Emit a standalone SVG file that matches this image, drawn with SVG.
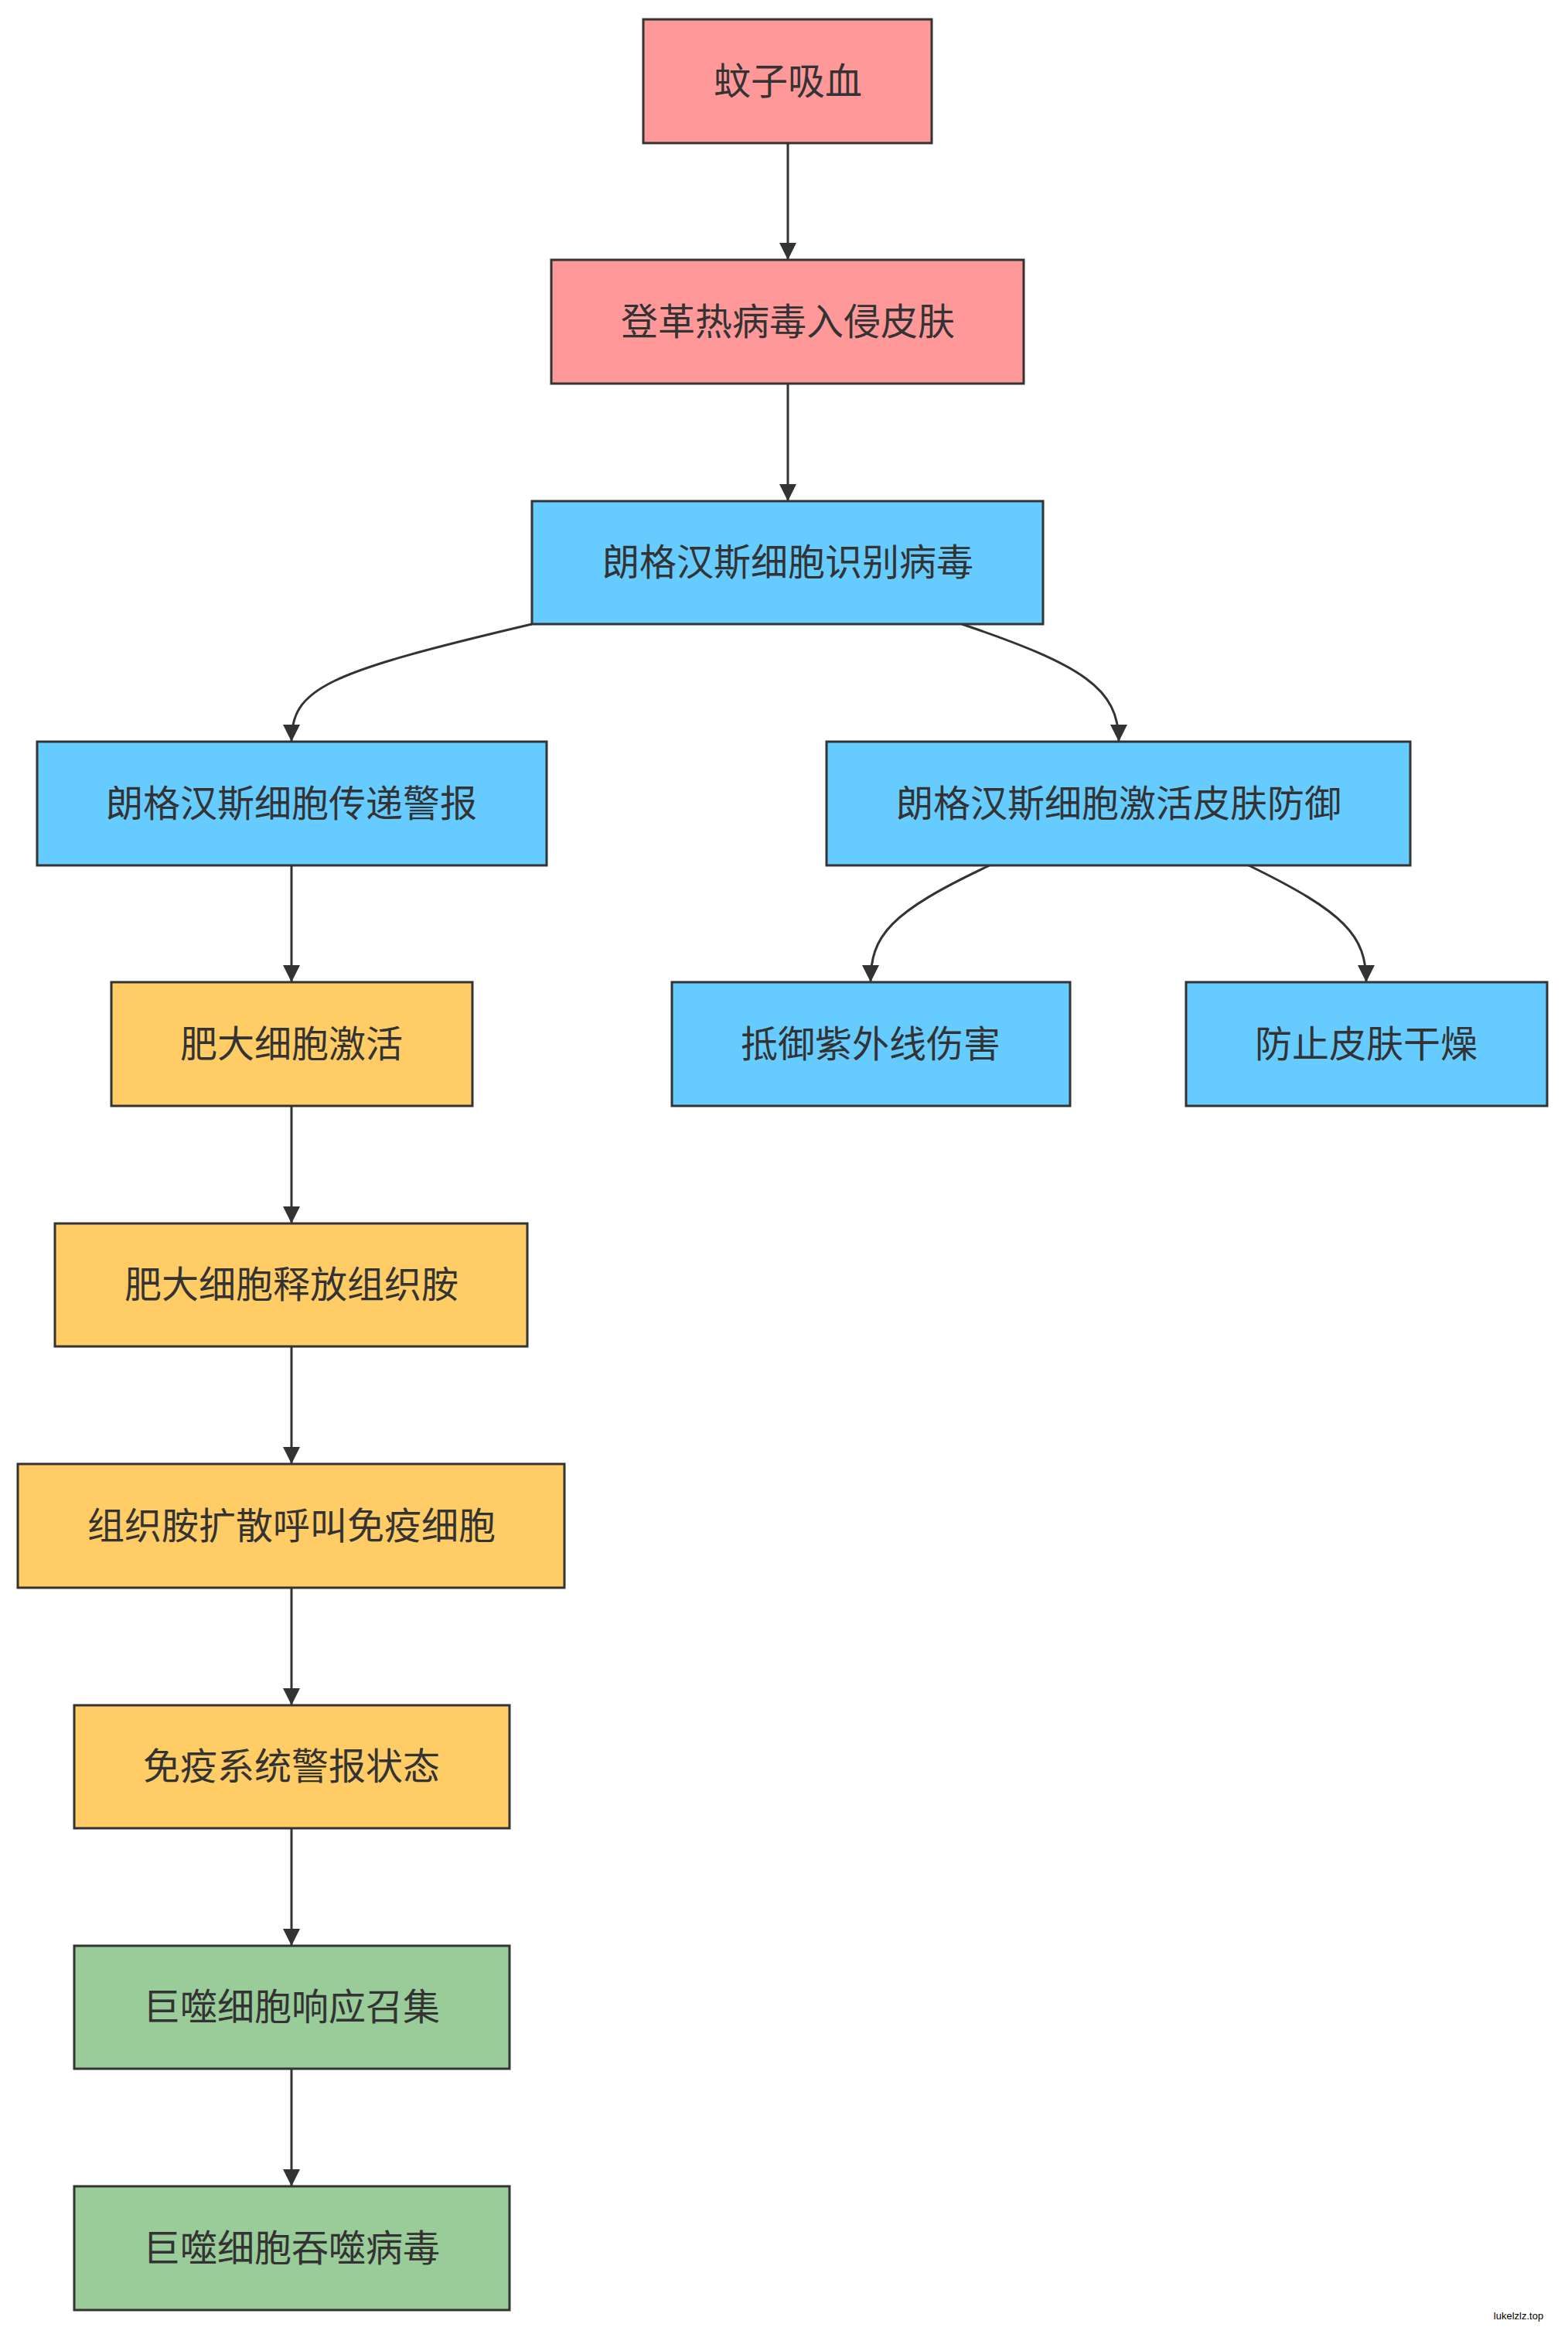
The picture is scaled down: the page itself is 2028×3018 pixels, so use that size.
<svg xmlns="http://www.w3.org/2000/svg" width="2028" height="3018" viewBox="0 0 2028 3018">
<style>
.n rect{stroke:#333;stroke-width:3}
.n text{font-family:"Noto Sans CJK SC","Liberation Sans",sans-serif;font-size:48px;fill:#333;text-anchor:middle;dominant-baseline:central}
.r rect{fill:#FF9999}.b rect{fill:#66CCFF}.y rect{fill:#FFCC66}.g rect{fill:#99CC99}
#edges path{fill:none;stroke:#333;stroke-width:3;marker-end:url(#ah)}
</style>
<defs><marker id="ah" viewBox="0 0 10 10" refX="10" refY="5" markerWidth="22" markerHeight="22" markerUnits="userSpaceOnUse" orient="auto"><path d="M0,0L10,5L0,10z" fill="#333"/></marker></defs>
<rect width="2028" height="3018" fill="#fff"/>
<g id="edges">
<path d="M1019,185V336"/>
<path d="M1019,496V648"/>
<path d="M688,807C420,870 377,890 377,959"/>
<path d="M1244,807C1400,860 1447,890 1447,959"/>
<path d="M377,1119V1270"/>
<path d="M1280,1119C1150,1180 1126,1210 1126,1270"/>
<path d="M1615,1119C1740,1180 1767,1210 1767,1270"/>
<path d="M377,1430V1582"/>
<path d="M377,1741V1893"/>
<path d="M377,2053V2205"/>
<path d="M377,2364V2516"/>
<path d="M377,2675V2827"/>
</g>
<g id="n1" class="n r"><rect x="832" y="25" width="373" height="160"/><text x="1019" y="101">蚊子吸血</text></g>
<g id="n2" class="n r"><rect x="713" y="336" width="611" height="160"/><text x="1019" y="412">登革热病毒入侵皮肤</text></g>
<g id="n3" class="n b"><rect x="688" y="648" width="661" height="159"/><text x="1019" y="723">朗格汉斯细胞识别病毒</text></g>
<g id="n4" class="n b"><rect x="48" y="959" width="659" height="160"/><text x="377" y="1035">朗格汉斯细胞传递警报</text></g>
<g id="n5" class="n b"><rect x="1069" y="959" width="755" height="160"/><text x="1447" y="1035">朗格汉斯细胞激活皮肤防御</text></g>
<g id="n6" class="n y"><rect x="144" y="1270" width="467" height="160"/><text x="377" y="1346">肥大细胞激活</text></g>
<g id="n7" class="n b"><rect x="869" y="1270" width="515" height="160"/><text x="1126" y="1346">抵御紫外线伤害</text></g>
<g id="n8" class="n b"><rect x="1534" y="1270" width="467" height="160"/><text x="1767" y="1346">防止皮肤干燥</text></g>
<g id="n9" class="n y"><rect x="71" y="1582" width="611" height="159"/><text x="377" y="1657">肥大细胞释放组织胺</text></g>
<g id="n10" class="n y"><rect x="23" y="1893" width="707" height="160"/><text x="377" y="1969">组织胺扩散呼叫免疫细胞</text></g>
<g id="n11" class="n y"><rect x="96" y="2205" width="563" height="159"/><text x="377" y="2280">免疫系统警报状态</text></g>
<g id="n12" class="n g"><rect x="96" y="2516" width="563" height="159"/><text x="377" y="2591">巨噬细胞响应召集</text></g>
<g id="n13" class="n g"><rect x="96" y="2827" width="563" height="160"/><text x="377" y="2903">巨噬细胞吞噬病毒</text></g>
<text x="1964" y="2999" font-family="Liberation Sans,sans-serif" font-size="13" fill="#000" text-anchor="middle">lukelzlz.top</text>
</svg>
